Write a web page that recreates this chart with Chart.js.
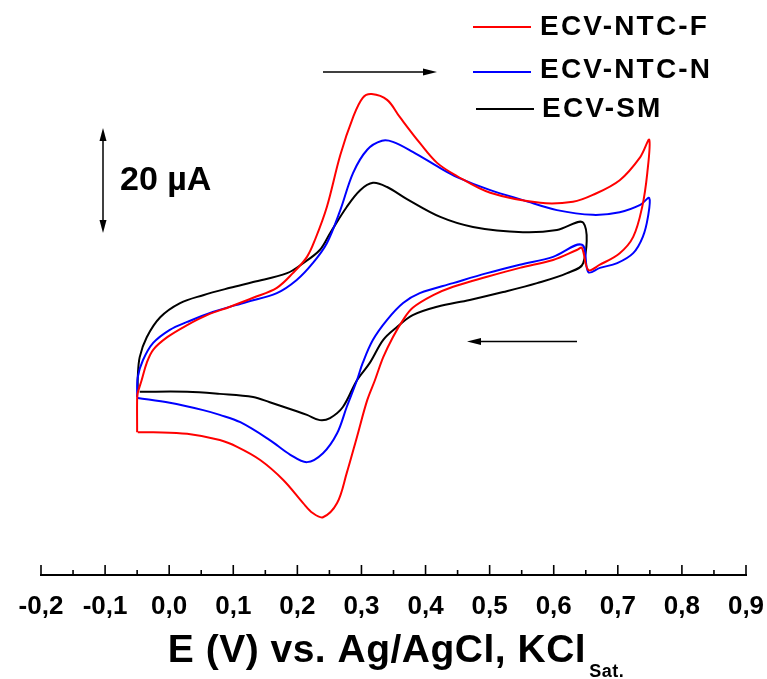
<!DOCTYPE html>
<html><head><meta charset="utf-8">
<script src="https://cdn.jsdelivr.net/npm/chart.js@4.4.1/dist/chart.umd.min.js"></script>
<style>html,body{margin:0;padding:0;background:#fff}canvas{display:block}</style>
</head><body>
<canvas id="c" width="767" height="679"></canvas>
<script>
// ---- data (E in V vs Ag/AgCl, I in µA; arbitrary current zero) ----
const seriesNames = ['ECV-NTC-F', 'ECV-NTC-N', 'ECV-SM'];
const seriesColors = ['#ff0000', '#0000ff', '#000000'];

const xTickValues = [-0.2, -0.1, 0.0, 0.1, 0.2, 0.3, 0.4, 0.5, 0.6, 0.7, 0.8, 0.9];
const xTickLabels = ['-0,2', '-0,1', '0,0', '0,1', '0,2', '0,3', '0,4', '0,5', '0,6', '0,7', '0,8', '0,9'];
const xTitleMain = 'E (V) vs. Ag/AgCl, KCl';
const xTitleSub = 'Sat.';
const scaleBarLabel = '20 µA';
const scaleBarValue = 20;

// ECV-NTC-F (forward then reverse scan)
const fE = [-0.050,-0.050,-0.049,-0.043,-0.035,-0.025,-0.003,0.028,0.059,0.095,
            0.131,0.168,0.193,0.215,0.228,0.246,0.267,0.287,0.302,0.316,
            0.340,0.360,0.391,0.418,0.449,0.501,0.579,0.630,0.661,0.703,
            0.735,0.749,
            0.746,0.738,0.724,0.703,0.672,0.654,0.644,0.636,0.599,0.547,
            0.496,0.443,0.412,0.380,0.365,0.349,0.334,0.321,0.309,0.293,
            0.277,0.262,0.240,0.224,0.209,0.178,0.142,0.106,0.079,0.028,
            -0.025,-0.049];
const fI = [-18.8,-12.3,-11.3,-8.9,-5.6,-3.1,-0.7,1.6,3.5,5.1,
            6.8,8.7,11.5,14.6,18.0,24.1,34.0,41.2,44.9,45.6,
            44.5,41.2,36.3,32.5,30.0,26.8,24.9,25.1,26.4,29.2,
            33.6,36.9,
            30.6,24.1,18.4,15.3,13.1,12.1,16.3,15.9,14.0,12.5,
            10.8,8.9,7.3,4.9,2.6,-0.7,-4.5,-8.9,-12.7,-19.7,
            -26.6,-32.3,-35.0,-34.2,-32.3,-27.9,-24.1,-21.6,-20.3,-19.1,
            -18.8,-18.8];

// ECV-NTC-N
const nE = [-0.050,-0.049,-0.041,-0.025,0.001,0.028,0.068,0.121,0.168,0.199,
            0.224,0.246,0.267,0.287,0.309,0.332,0.349,0.380,0.423,0.449,
            0.501,0.552,0.605,0.661,0.703,0.735,0.749,
            0.747,0.739,0.724,0.699,0.672,0.654,0.644,0.599,0.547,0.496,
            0.443,0.391,0.365,0.340,0.318,0.302,0.293,0.277,0.262,0.240,
            0.215,0.189,0.157,0.111,0.079,0.053,0.001,-0.049];
const nI = [-12.1,-8.3,-5.1,-1.8,0.7,2.2,4.1,6.0,7.7,10.2,
            13.4,17.2,23.5,30.6,35.0,36.7,36.5,34.6,31.5,29.8,
            27.3,25.4,23.5,22.6,23.1,24.5,25.8,
            22.2,18.4,15.3,13.4,12.5,11.7,16.9,14.6,13.1,11.5,
            9.6,7.7,5.8,2.6,-1.2,-5.6,-8.9,-14.0,-19.0,-22.8,
            -24.5,-23.1,-20.3,-16.9,-15.5,-14.6,-13.2,-12.3];

// ECV-SM
const sE = [-0.049,-0.049,-0.046,-0.035,-0.014,0.017,0.053,0.095,0.131,0.184,
            0.209,0.235,0.251,0.277,0.298,0.318,0.340,0.371,0.423,0.474,
            0.552,0.605,0.646,
            0.646,0.621,0.574,0.521,0.469,0.418,0.380,0.355,0.334,0.313,
            0.293,0.271,0.251,0.235,0.215,0.199,0.157,0.131,0.079,0.028,
            -0.046];
const sI = [-11.1,-8.3,-4.5,-0.7,3.1,5.8,7.3,8.7,9.8,11.5,
            13.4,15.9,19.1,24.1,27.3,28.7,27.9,25.6,22.2,20.3,
            19.3,19.7,21.1,
            13.4,11.5,9.6,7.9,6.4,5.1,3.5,1.2,-1.2,-5.6,
            -8.9,-14.0,-16.1,-16.5,-15.5,-14.8,-13.1,-12.1,-11.5,-11.1,
            -11.1];

const FONT = "'Liberation Sans', Arial, Helvetica, sans-serif";
const zip = (xs, ys) => xs.map((x, i) => ({x: x, y: ys[i]}));
const seriesData = [zip(fE, fI), zip(nE, nI), zip(sE, sI)];

function arrowHead(ctx, x, y, dir, len, half) {
  ctx.beginPath();
  if (dir === 'right') { ctx.moveTo(x, y); ctx.lineTo(x - len, y - half); ctx.lineTo(x - len, y + half); }
  else if (dir === 'left') { ctx.moveTo(x, y); ctx.lineTo(x + len, y - half); ctx.lineTo(x + len, y + half); }
  else if (dir === 'up') { ctx.moveTo(x, y); ctx.lineTo(x - half, y + len); ctx.lineTo(x + half, y + len); }
  else { ctx.moveTo(x, y); ctx.lineTo(x - half, y - len); ctx.lineTo(x + half, y - len); }
  ctx.closePath(); ctx.fill();
}

const deco = {
  id: 'deco',
  afterDraw(chart) {
    const ctx = chart.ctx, xs = chart.scales.x, ys = chart.scales.y, ca = chart.chartArea;
    ctx.save();
    ctx.strokeStyle = '#000'; ctx.fillStyle = '#000';
    // inward major & minor ticks
    ctx.lineWidth = 1.6;
    xTickValues.forEach((v, i) => {
      const px = xs.getPixelForValue(v);
      ctx.beginPath(); ctx.moveTo(px, ca.bottom); ctx.lineTo(px, ca.bottom - 10); ctx.stroke();
      if (i < xTickValues.length - 1) {
        const pm = xs.getPixelForValue((v + xTickValues[i + 1]) / 2);
        ctx.beginPath(); ctx.moveTo(pm, ca.bottom); ctx.lineTo(pm, ca.bottom - 5); ctx.stroke();
      }
    });
    // axis title with subscript
    ctx.textBaseline = 'alphabetic'; ctx.textAlign = 'left';
    ctx.font = `bold 39px ${FONT}`;
    try { ctx.letterSpacing = '0.5px'; } catch (e) {}
    const w1 = ctx.measureText(xTitleMain).width;
    ctx.font = `bold 18px ${FONT}`;
    const w2 = ctx.measureText(xTitleSub).width;
    const x0 = 396 - (w1 + 3 + w2) / 2;
    ctx.font = `bold 39px ${FONT}`;
    ctx.fillText(xTitleMain, x0, 662);
    ctx.font = `bold 18px ${FONT}`;
    ctx.fillText(xTitleSub, x0 + w1 + 3, 677);
    try { ctx.letterSpacing = '0px'; } catch (e) {}

    // legend
    const legendRows = [
      {lx1: 473, lx2: 531, ly: 27, tx: 540, ty: 35},
      {lx1: 473, lx2: 531, ly: 72, tx: 540, ty: 78},
      {lx1: 476, lx2: 534, ly: 109, tx: 542, ty: 117}
    ];
    chart.data.datasets.forEach((ds, i) => {
      const r = legendRows[i];
      ctx.strokeStyle = ds.borderColor; ctx.lineWidth = 2;
      ctx.beginPath(); ctx.moveTo(r.lx1, r.ly); ctx.lineTo(r.lx2, r.ly); ctx.stroke();
      ctx.fillStyle = '#000';
      ctx.font = `bold 28px ${FONT}`;
      try { ctx.letterSpacing = '2.2px'; } catch (e) {}
      ctx.fillText(ds.label, r.tx, r.ty);
      try { ctx.letterSpacing = '0px'; } catch (e) {}
    });

    // scan direction arrows
    ctx.strokeStyle = '#000'; ctx.fillStyle = '#000'; ctx.lineWidth = 1.3;
    ctx.beginPath(); ctx.moveTo(323, 72); ctx.lineTo(430, 72); ctx.stroke();
    arrowHead(ctx, 437, 72, 'right', 14, 3.5);
    ctx.beginPath(); ctx.moveTo(577, 341.5); ctx.lineTo(474, 341.5); ctx.stroke();
    arrowHead(ctx, 467, 341.5, 'left', 14, 3.5);

    // 20 µA scale bar (uses the y scale)
    const yb = ys.getPixelForValue(19.14), yt = ys.getPixelForValue(19.14 + scaleBarValue);
    ctx.lineWidth = 1.5;
    ctx.beginPath(); ctx.moveTo(103, yt + 6); ctx.lineTo(103, yb - 6); ctx.stroke();
    arrowHead(ctx, 103, yt, 'up', 13, 3.5);
    arrowHead(ctx, 103, yb, 'down', 13, 3.5);
    ctx.font = `bold 34px ${FONT}`;
    ctx.fillText(scaleBarLabel, 120, 190);
    ctx.restore();
  }
};

new Chart(document.getElementById('c'), {
  type: 'scatter',
  data: {
    datasets: seriesNames.map((name, i) => ({
      label: name,
      data: seriesData[i],
      showLine: true,
      borderColor: seriesColors[i],
      backgroundColor: seriesColors[i],
      borderWidth: 2,
      pointRadius: 0,
      pointHoverRadius: 0,
      tension: 0.35,
      fill: false
    }))
  },
  options: {
    responsive: false,
    animation: false,
    devicePixelRatio: 1,
    layout: {padding: {left: 41, right: 21, top: 18.5, bottom: 0}},
    plugins: {legend: {display: false}, tooltip: {enabled: false}},
    scales: {
      x: {
        type: 'linear', position: 'bottom', min: -0.2, max: 0.9,
        grid: {display: false},
        border: {display: true, color: '#000', width: 2},
        afterFit: (s) => { s.height = 104; s.paddingLeft = 0; s.paddingRight = 0; },
        afterBuildTicks: (s) => { s.ticks = xTickValues.map(v => ({value: v})); },
        ticks: {
          autoSkip: false, maxRotation: 0, padding: 8, color: '#000',
          font: {family: FONT, size: 26, weight: 'bold'},
          callback: (v) => xTickLabels[xTickValues.findIndex(t => Math.abs(t - v) < 1e-6)]
        }
      },
      y: {type: 'linear', min: -46, max: 60, display: false}
    }
  },
  plugins: [deco]
});
</script>
</body></html>
